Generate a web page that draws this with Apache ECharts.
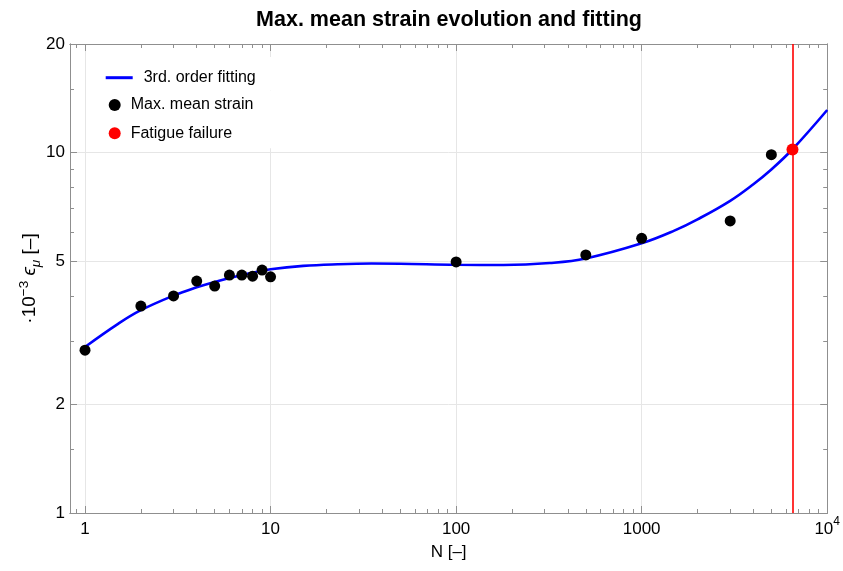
<!DOCTYPE html>
<html>
<head>
<meta charset="utf-8">
<script src="https://cdn.jsdelivr.net/npm/echarts@6/dist/echarts.min.js"></script>
<style>html,body{margin:0;padding:0;background:#fff}#c{width:843px;height:571px}</style>
</head>
<body>
<div id="c"></div>
<script>
// ---- data ----
const strainN = [1, 2, 3, 4, 5, 6, 7, 8, 9, 10, 100, 500, 1000, 3000, 5000];
const strainV = [2.83, 3.75, 4.00, 4.40, 4.26, 4.57, 4.57, 4.54, 4.72, 4.52, 4.97, 5.20, 5.78, 6.46, 9.86];
const fitN = [1, 1.5, 2, 3, 4, 5, 6, 7, 8, 10, 15, 23, 35, 50, 100, 180, 320, 500, 1000, 1500, 2000, 3000, 4000, 5000, 6500, 10000];
const fitV = [2.888, 3.342, 3.652, 4.009, 4.227, 4.375, 4.487, 4.571, 4.640, 4.742, 4.847, 4.898, 4.920, 4.915, 4.881, 4.875, 4.937, 5.082, 5.598, 6.07, 6.524, 7.345, 8.166, 8.974, 10.21, 13.12];
const failN = [6500];
const failV = [10.2];
const xMajorTicks = [1, 10, 100, 1000, 10000];
const xMinorTicks = [0.9, 2, 3, 4, 5, 6, 7, 8, 9, 20, 30, 40, 50, 60, 70, 80, 90, 200, 300, 400, 500, 600, 700, 800, 900, 2000, 3000, 4000, 5000, 6000, 7000, 8000, 9000];
const yMajorTicks = [1, 2, 5, 10, 20];
const yMinorTicks = [1.5, 3, 4, 6, 7, 8, 9, 15];
const xRange = [0.83, 10000];
const yRange = [1, 20];

const FONT = "'Liberation Sans', Arial, sans-serif";
const FRAME = '#8f8f8f';
const GRID = '#e6e6e6';

function logAxis(range, pos, ticks, len, withSplit, extra) {
  const a = {
    type: 'log', logBase: 10, min: range[0], max: range[1], position: pos,
    axisLine: { show: true, onZero: false, lineStyle: { color: FRAME, width: 1 } },
    axisTick: { show: true, inside: true, length: len, customValues: ticks, lineStyle: { color: FRAME, width: 1 } },
    axisLabel: { show: false },
    splitLine: { show: withSplit, lineStyle: { color: GRID, width: 1 } },
    minorTick: { show: false }, minorSplitLine: { show: false },
    axisPointer: { show: false }
  };
  return Object.assign(a, extra || {});
}

const chart = echarts.init(document.getElementById('c'), null, { renderer: 'canvas' });
const option = {
  animation: false,
  backgroundColor: '#ffffff',
  textStyle: { fontFamily: FONT },
  title: {
    text: 'Max. mean strain evolution and fitting',
    left: 444, textAlign: 'center', top: 4, padding: 5,
    textStyle: { fontFamily: FONT, fontWeight: 'bold', fontSize: 21.5, color: '#000' }
  },
  grid: { left: 70, right: 15, top: 44, bottom: 58, containLabel: false },
  legend: [
    {
      data: [{ name: '3rd. order fitting', icon: 'rect' }], orient: 'vertical', left: 90, top: 57,
      padding: [12.7, 20, 5, 15.7], backgroundColor: '#ffffff',
      itemWidth: 27, itemHeight: 3, itemGap: 12,
      textStyle: { fontFamily: FONT, fontSize: 16, color: '#000', lineHeight: 16, padding: [0, 0, 0, 6] }
    },
    {
      data: ['Max. mean strain', 'Fatigue failure'], orient: 'vertical', left: 90, top: 91,
      padding: [6, 20, 7, 18.7], backgroundColor: '#ffffff',
      itemWidth: 12, itemHeight: 12, itemGap: 12.3,
      textStyle: { fontFamily: FONT, fontSize: 16, color: '#000', lineHeight: 16, padding: [0, 0, 0, 5] }
    }
  ],
  xAxis: [
    logAxis(xRange, 'bottom', xMajorTicks, 7, true, {
      name: 'N [–]', nameLocation: 'middle', nameGap: 31, nameMoveOverlap: false,
      nameTextStyle: { fontFamily: FONT, fontSize: 17, color: '#000' },
      axisLabel: {
        show: true, customValues: xMajorTicks, margin: 3, color: '#000',
        formatter: function (v) {
          const r = Math.round(v);
          return r === 10000 ? '{b|10}{s|4}' : '{b|' + r + '}';
        },
        rich: {
          b: { fontFamily: FONT, fontSize: 17, lineHeight: 22, verticalAlign: 'bottom', color: '#000' },
          s: { fontFamily: FONT, fontSize: 12, lineHeight: 12, verticalAlign: 'top', color: '#000' }
        }
      }
    }),
    logAxis(xRange, 'bottom', xMinorTicks, 4, false),
    logAxis(xRange, 'top', xMajorTicks, 7, false),
    logAxis(xRange, 'top', xMinorTicks, 4, false)
  ],
  yAxis: [
    logAxis(yRange, 'left', yMajorTicks, 7, true, {
      name: '{n|·10}{p|−3}{n| }{e|ϵ}{u|μ}{n| [–]}', nameLocation: 'middle', nameGap: 27, nameRotate: 90,
      nameMoveOverlap: false,
      nameTextStyle: {
        fontFamily: FONT, fontSize: 19, color: '#000',
        rich: {
          n: { fontFamily: FONT, fontSize: 19, lineHeight: 26, color: '#000' },
          p: { fontFamily: FONT, fontSize: 13.5, lineHeight: 13, verticalAlign: 'top', color: '#000' },
          e: { fontFamily: FONT, fontSize: 19, lineHeight: 26, fontStyle: 'italic', color: '#000' },
          u: { fontFamily: FONT, fontSize: 13.5, lineHeight: 13, verticalAlign: 'bottom', fontStyle: 'italic', color: '#000' }
        }
      },
      axisLabel: {
        show: true, customValues: yMajorTicks, margin: 5, color: '#000',
        fontFamily: FONT, fontSize: 17,
        formatter: function (v) { return String(+v.toPrecision(6)); }
      }
    }),
    logAxis(yRange, 'left', yMinorTicks, 4, false),
    logAxis(yRange, 'right', yMajorTicks, 7, false),
    logAxis(yRange, 'right', yMinorTicks, 4, false)
  ],
  series: [
    {
      name: '3rd. order fitting', type: 'line', xAxisIndex: 0, yAxisIndex: 0,
      data: fitN.map((n, i) => [n, fitV[i]]),
      smooth: 0.4, symbol: 'none', clip: true,
      lineStyle: { color: '#0000ff', width: 2.6 }, itemStyle: { color: '#0000ff' }, z: 3
    },
    {
      name: 'Max. mean strain', type: 'scatter', xAxisIndex: 0, yAxisIndex: 0,
      data: strainN.map((n, i) => [n, strainV[i]]),
      symbol: 'circle', symbolSize: 11, itemStyle: { color: '#000000', opacity: 1 }, z: 4
    },
    {
      name: 'Fatigue failure', type: 'scatter', xAxisIndex: 0, yAxisIndex: 0,
      data: failN.map((n, i) => [n, failV[i]]),
      symbol: 'circle', symbolSize: 12, itemStyle: { color: '#ff0000', opacity: 1 }, z: 5,
      markLine: {
        silent: true, symbol: 'none', animation: false,
        label: { show: false },
        lineStyle: { color: '#ff0000', width: 1.6, type: 'solid' },
        data: failN.map(n => ({ xAxis: n }))
      }
    }
  ]
};
chart.setOption(option);
</script>
</body>
</html>
